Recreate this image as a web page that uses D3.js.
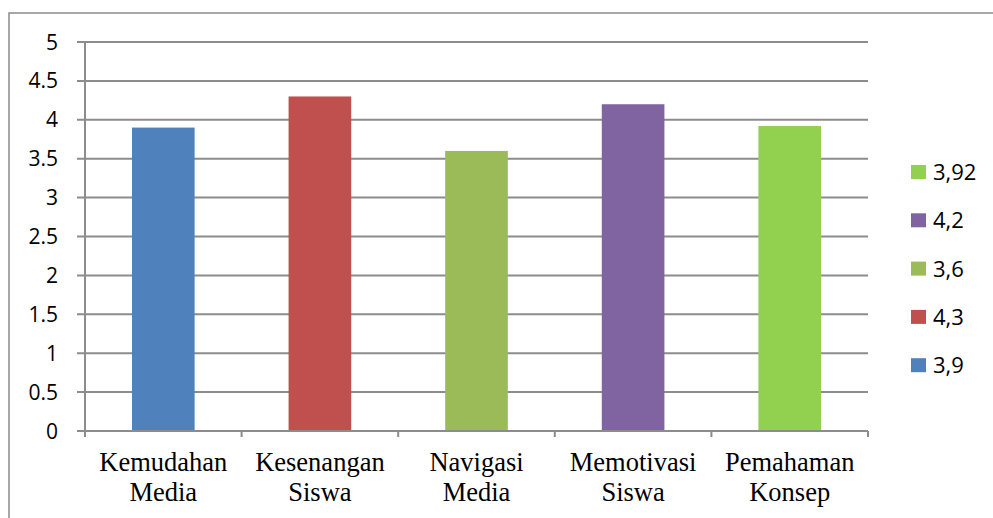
<!DOCTYPE html>
<html lang="en">
<head>
<meta charset="UTF-8">
<title>Bar chart</title>
<script src="https://d3js.org/d3.v7.min.js"></script>
<style>
  body { margin: 0; background: #fff; }
</style>
</head>
<body>
<svg id="chart" width="993" height="518"></svg>
<script>
// data
const categories = [["Kemudahan", "Media"], ["Kesenangan", "Siswa"], ["Navigasi", "Media"], ["Memotivasi", "Siswa"], ["Pemahaman", "Konsep"]];
const values = [3.9, 4.3, 3.6, 4.2, 3.92];
const legendLabels = ["3,9", "4,3", "3,6", "4,2", "3,92"];
const colors = ["#4F81BD", "#C0504D", "#9BBB59", "#8064A2", "#92D050"];
const yTicks = [0, 0.5, 1, 1.5, 2, 2.5, 3, 3.5, 4, 4.5, 5];

const svg = d3.select("#chart");

// outer chart border
svg.append("rect")
    .attr("x", 9).attr("y", 13)
    .attr("width", 1000).attr("height", 600)
    .attr("fill", "none")
    .attr("stroke", "#8a8a8a")
    .attr("stroke-width", 1.5);

const plot = { left: 85, right: 868, top: 42, bottom: 431 };

const x = d3.scaleBand()
    .domain(d3.range(categories.length))
    .range([plot.left, plot.right]);

const y = d3.scaleLinear()
    .domain([0, 5])
    .range([plot.bottom, plot.top]);

// gridlines
svg.append("g")
    .selectAll("line")
    .data(yTicks)
    .join("line")
    .attr("x1", plot.left - 8)
    .attr("x2", plot.right)
    .attr("y1", d => y(d))
    .attr("y2", d => y(d))
    .attr("stroke", "#8c8c8c")
    .attr("stroke-width", 2);

// y labels
svg.append("g")
    .selectAll("text")
    .data(yTicks)
    .join("text")
    .attr("x", 58)
    .attr("y", d => y(d))
    .attr("dy", "0.36em")
    .attr("text-anchor", "end")
    .attr("font-family", "'Open Sans', 'Noto Sans', sans-serif")
    .attr("font-size", "21px")
    .attr("fill", "#000")
    .text(d => d);

// y axis line
svg.append("line")
    .attr("x1", plot.left).attr("x2", plot.left)
    .attr("y1", plot.top).attr("y2", plot.bottom + 6)
    .attr("stroke", "#8c8c8c")
    .attr("stroke-width", 2);

// x tick marks
svg.append("g")
    .selectAll("line")
    .data(d3.range(categories.length + 1))
    .join("line")
    .attr("x1", i => plot.left + i * x.step())
    .attr("x2", i => plot.left + i * x.step())
    .attr("y1", plot.bottom)
    .attr("y2", plot.bottom + 6)
    .attr("stroke", "#8c8c8c")
    .attr("stroke-width", 2);

// bars
const barW = x.bandwidth() * 0.4;
svg.append("g")
    .selectAll("rect")
    .data(values)
    .join("rect")
    .attr("x", (d, i) => x(i) + (x.bandwidth() - barW) / 2)
    .attr("y", d => y(d))
    .attr("width", barW)
    .attr("height", d => y(0) - y(d))
    .attr("fill", (d, i) => colors[i]);

// x axis line on top of bars
svg.append("line")
    .attr("x1", plot.left).attr("x2", plot.right)
    .attr("y1", plot.bottom).attr("y2", plot.bottom)
    .attr("stroke", "#8c8c8c")
    .attr("stroke-width", 2);

// category labels
const catText = svg.append("g")
    .selectAll("text")
    .data(categories)
    .join("text")
    .attr("x", (d, i) => x(i) + x.bandwidth() / 2)
    .attr("y", 471)
    .attr("text-anchor", "middle")
    .attr("font-family", "'Liberation Serif', 'Times New Roman', serif")
    .attr("font-size", "26.5px")
    .attr("fill", "#000");
catText.each(function(d) {
    const t = d3.select(this);
    d.forEach((line, j) => {
        t.append("tspan")
            .attr("x", t.attr("x"))
            .attr("dy", j === 0 ? 0 : 29.5)
            .text(line);
    });
});

// legend (reversed order, like the reference)
const legendOrder = d3.range(values.length).reverse();
const legend = svg.append("g")
    .selectAll("g")
    .data(legendOrder)
    .join("g")
    .attr("transform", (d, k) => `translate(911, ${172 + k * 48.3})`);

legend.append("rect")
    .attr("x", 0).attr("y", -7)
    .attr("width", 15).attr("height", 14)
    .attr("fill", i => colors[i]);

legend.append("text")
    .attr("x", 22)
    .attr("y", 0)
    .attr("dy", "0.36em")
    .attr("font-family", "'Open Sans', 'Noto Sans', sans-serif")
    .attr("font-size", "22px")
    .attr("fill", "#000")
    .text(i => legendLabels[i]);
</script>
</body>
</html>
